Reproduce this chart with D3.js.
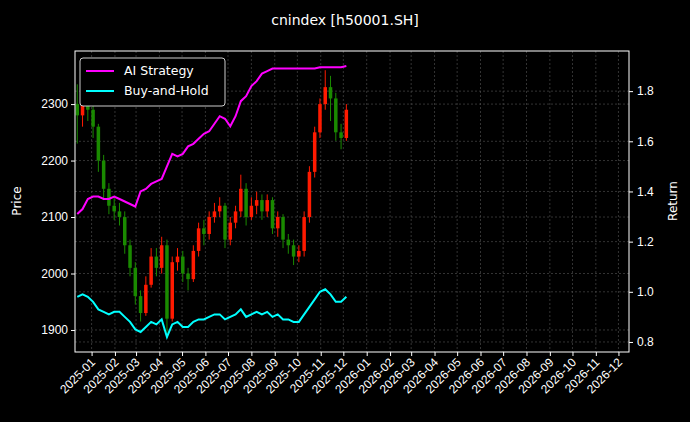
<!DOCTYPE html>
<html><head><meta charset="utf-8">
<script src="https://cdn.jsdelivr.net/npm/d3@7"></script>
<style>body{margin:0;background:#000}svg{font-family:"DejaVu Sans",sans-serif}</style>
</head><body><svg id="c" width="690" height="422"></svg>
<script>
const startDate = new Date(2024, 11, 13);
const opens = [2300,2280,2310,2290,2260,2200,2150,2120,2110,2100,2050,2010,1960,1930,1980,2030,2010,2050,1920,2020,2030,2000,1990,2040,2080,2070,2100,2110,2120,2060,2090,2110,2150,2100,2120,2130,2110,2130,2080,2100,2060,2050,2030,2040,2100,2180,2250,2300,2330,2310,2250,2240];
const closes = [2280,2310,2290,2260,2200,2150,2120,2110,2100,2050,2010,1960,1930,1980,2030,2010,2050,1920,2020,2030,2000,1990,2040,2080,2070,2100,2110,2120,2060,2090,2110,2150,2100,2120,2130,2110,2130,2080,2100,2060,2050,2030,2040,2100,2180,2250,2300,2330,2310,2250,2240,2290];
const highs = [2335,2330,2325,2300,2265,2210,2160,2135,2125,2110,2060,2020,1970,1995,2045,2045,2065,2060,2030,2045,2040,2010,2050,2090,2095,2110,2125,2135,2125,2100,2120,2175,2160,2135,2145,2140,2140,2135,2110,2105,2070,2060,2050,2110,2190,2260,2310,2360,2350,2320,2265,2300];
const lows = [2230,2260,2270,2240,2180,2130,2105,2095,2085,2035,1995,1945,1915,1925,1975,1995,2000,1890,1915,2005,1985,1970,1985,2030,2050,2060,2090,2100,2045,2050,2080,2100,2085,2095,2105,2095,2100,2070,2065,2045,2035,2015,2020,2030,2090,2170,2240,2290,2270,2235,2220,2235];
const strategy = [1.31,1.33,1.37,1.38,1.38,1.37,1.37,1.38,1.37,1.36,1.35,1.34,1.40,1.41,1.43,1.44,1.45,1.50,1.55,1.54,1.55,1.58,1.59,1.61,1.63,1.64,1.67,1.70,1.69,1.66,1.70,1.76,1.78,1.82,1.84,1.87,1.88,1.89,1.89,1.89,1.89,1.89,1.89,1.89,1.89,1.89,1.895,1.895,1.895,1.895,1.895,1.90];
const buyHold = [0.98,0.99,0.98,0.96,0.93,0.92,0.91,0.92,0.92,0.90,0.88,0.85,0.84,0.86,0.88,0.87,0.89,0.82,0.87,0.88,0.86,0.86,0.88,0.89,0.89,0.90,0.91,0.91,0.89,0.90,0.91,0.93,0.90,0.91,0.92,0.91,0.92,0.90,0.91,0.89,0.89,0.88,0.88,0.91,0.94,0.97,1.00,1.01,0.99,0.96,0.96,0.98];
const priceTicks = [1900,2000,2100,2200,2300];
const returnTicks = [0.8,1.0,1.2,1.4,1.6,1.8];

const dates = closes.map((_, i) => d3.timeDay.offset(startDate, 7 * i));
const L = 75, R = 629, T = 51, B = 352;
const svg = d3.select('#c');
svg.append('rect').attr('width', 690).attr('height', 422).attr('fill', '#000');

const x = d3.scaleTime().domain([new Date(2024, 11, 10), new Date(2026, 11, 15)]).range([L, R]);
const y = d3.scaleLinear().domain([1861, 2394]).range([B, T]);
const y2 = d3.scaleLinear().domain([0.76, 1.96]).range([B, T]);
const months = d3.timeMonth.range(new Date(2025, 0, 1), new Date(2026, 11, 2));

const grid = svg.append('g').attr('stroke', '#555').attr('stroke-dasharray', '2,2').attr('stroke-width', 0.6);
months.forEach(m => grid.append('line').attr('x1', x(m)).attr('x2', x(m)).attr('y1', T).attr('y2', B));
priceTicks.forEach(t => grid.append('line').attr('x1', L).attr('x2', R).attr('y1', y(t)).attr('y2', y(t)));
returnTicks.forEach(t => grid.append('line').attr('x1', L).attr('x2', R).attr('y1', y2(t)).attr('y2', y2(t)));

// candles
const cw = 3.5;
const candles = svg.append('g');
closes.forEach((c, i) => {
  const col = c >= opens[i] ? '#ff1a00' : '#1a8a00';
  const cx = x(dates[i]);
  candles.append('line').attr('x1', cx).attr('x2', cx).attr('y1', y(highs[i])).attr('y2', y(lows[i])).attr('stroke', col).attr('stroke-width', 1);
  candles.append('rect').attr('x', cx - cw / 2).attr('width', cw)
    .attr('y', y(Math.max(c, opens[i]))).attr('height', Math.max(1, Math.abs(y(c) - y(opens[i])))).attr('fill', col);
});

const line = d3.line().x((d, i) => x(dates[i])).y(d => y2(d));
svg.append('path').datum(strategy).attr('d', line).attr('fill', 'none').attr('stroke', '#ff00ff').attr('stroke-width', 2);
svg.append('path').datum(buyHold).attr('d', line).attr('fill', 'none').attr('stroke', '#00ffff').attr('stroke-width', 2);

svg.append('rect').attr('x', L).attr('y', T).attr('width', R - L).attr('height', B - T).attr('fill', 'none').attr('stroke', '#fff').attr('stroke-width', 1);

const ax = g => g.selectAll('text').attr('fill', '#fff').style('font-size', '12px');
svg.append('g').attr('transform', `translate(${L},0)`).call(d3.axisLeft(y).tickValues(priceTicks).tickFormat(d3.format('d')).tickSize(4).tickPadding(3))
  .call(g => g.select('.domain').remove()).call(g => g.selectAll('line').attr('stroke', '#fff')).call(ax);
svg.append('g').attr('transform', `translate(${R},0)`).call(d3.axisRight(y2).tickValues(returnTicks).tickFormat(d3.format('.1f')).tickSize(4).tickPadding(4))
  .call(g => g.select('.domain').remove()).call(g => g.selectAll('line').attr('stroke', '#fff')).call(ax);
const xa = svg.append('g').attr('transform', `translate(0,${B})`).call(d3.axisBottom(x).tickValues(months).tickFormat(d3.timeFormat('%Y-%m')).tickSize(4))
  .call(g => g.select('.domain').remove()).call(g => g.selectAll('line').attr('stroke', '#fff')).call(ax);
xa.selectAll('text').attr('text-anchor', 'end').attr('dy', 0).attr('y', 0)
  .attr('transform', 'translate(4,11) rotate(-45)');

svg.append('text').attr('x', 345).attr('y', 25).attr('text-anchor', 'middle').attr('fill', '#fff').style('font-size', '14px').text('cnindex [h50001.SH]');
svg.append('text').attr('transform', 'translate(21,201) rotate(-90)').attr('text-anchor', 'middle').attr('fill', '#fff').style('font-size', '12px').text('Price');
svg.append('text').attr('transform', 'translate(677,201) rotate(-90)').attr('text-anchor', 'middle').attr('fill', '#fff').style('font-size', '12px').text('Return');

const lg = svg.append('g').attr('transform', 'translate(80,58)');
lg.append('rect').attr('width', 145).attr('height', 48).attr('rx', 3).attr('fill', '#000').attr('stroke', '#ccc');
[['AI Strategy', '#ff00ff'], ['Buy-and-Hold', '#00ffff']].forEach(([t, c], i) => {
  lg.append('line').attr('x1', 6).attr('x2', 34).attr('y1', 13 + i * 20).attr('y2', 13 + i * 20).attr('stroke', c).attr('stroke-width', 2);
  lg.append('text').attr('x', 44).attr('y', 17 + i * 20).attr('fill', '#fff').style('font-size', '12.5px').text(t);
});
</script></body></html>
